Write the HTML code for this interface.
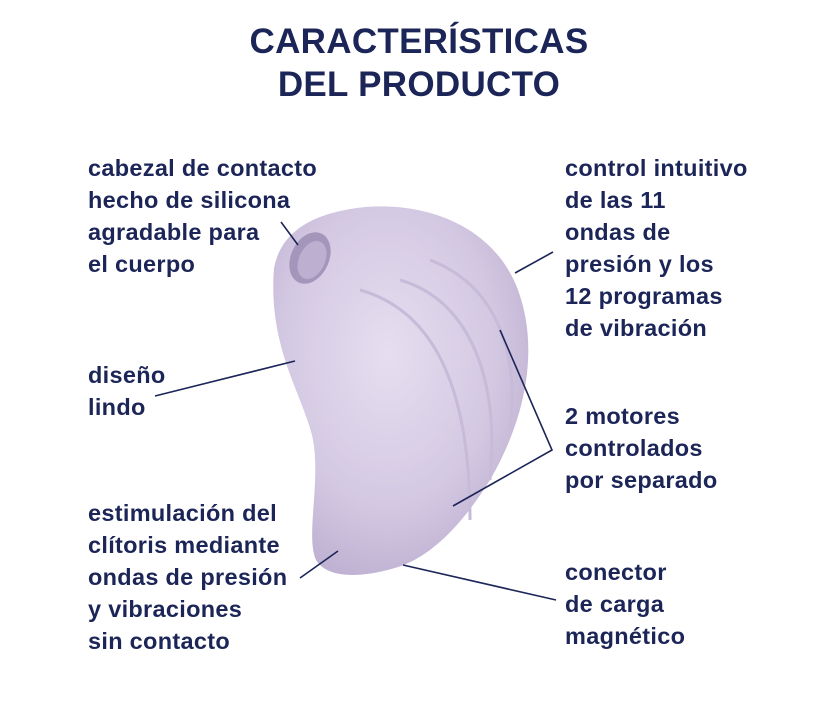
<!DOCTYPE html>
<html><head><meta charset="utf-8"><style>
body{margin:0;width:838px;height:726px;background:#fff;position:relative;overflow:hidden;font-family:"Liberation Sans",sans-serif;color:#1c2557}
.t{position:absolute;left:0;width:838px;text-align:center;font-weight:bold;font-size:35px;letter-spacing:0.3px}
.b{position:absolute;font-size:23.5px;line-height:32px;font-weight:bold;white-space:nowrap;letter-spacing:0.3px}
</style></head><body>
<svg width="838" height="726" style="position:absolute;left:0;top:0">
<defs>
<radialGradient id="g" cx="0.45" cy="0.4" r="0.7">
<stop offset="0" stop-color="#e6def0"/><stop offset="0.6" stop-color="#d3c8e2"/><stop offset="1" stop-color="#b7a9cc"/>
</radialGradient>
</defs>
<path d="M274,268 C282,228 318,212 365,207 C430,202 495,228 518,290 C540,350 525,420 490,480 C462,525 430,558 395,568 C365,577 328,580 316,560 C305,535 322,480 312,435 C300,390 268,345 274,268 Z" fill="url(#g)"/>
<path d="M360,290 C430,310 470,380 470,520" stroke="#c6bbd8" stroke-width="3" fill="none"/>
<path d="M400,280 C470,300 500,380 490,480" stroke="#c6bbd8" stroke-width="3" fill="none"/>
<path d="M430,260 C495,285 520,350 510,430" stroke="#c6bbd8" stroke-width="3" fill="none"/>
<ellipse cx="310" cy="258" rx="19" ry="27" transform="rotate(25 310 258)" fill="#a496bb"/>
<ellipse cx="312" cy="260" rx="13" ry="20" transform="rotate(25 312 260)" fill="#bcafd0"/>
<g stroke="#1c2557" stroke-width="1.6" fill="none">
<line x1="281" y1="222" x2="298" y2="245"/>
<line x1="155" y1="396" x2="295" y2="361"/>
<line x1="515" y1="273" x2="553" y2="252"/>
<polyline points="500,330 552,450 453,506"/>
<line x1="300" y1="578" x2="338" y2="551"/>
<line x1="403" y1="565" x2="556" y2="600"/>
</g>
</svg>
<div class="t" style="top:22px">CARACTERÍSTICAS</div>
<div class="t" style="top:65px">DEL PRODUCTO</div>
<div class="b" style="left:88px;top:152px">cabezal de contacto<br>hecho de silicona<br>agradable para<br>el cuerpo</div>
<div class="b" style="left:88px;top:359px">diseño<br>lindo</div>
<div class="b" style="left:88px;top:497px">estimulación del<br>clítoris mediante<br>ondas de presión<br>y vibraciones<br>sin contacto</div>
<div class="b" style="left:565px;top:152px">control intuitivo<br>de las 11<br>ondas de<br>presión y los<br>12 programas<br>de vibración</div>
<div class="b" style="left:565px;top:400px">2 motores<br>controlados<br>por separado</div>
<div class="b" style="left:565px;top:556px">conector<br>de carga<br>magnético</div>
</body></html>
